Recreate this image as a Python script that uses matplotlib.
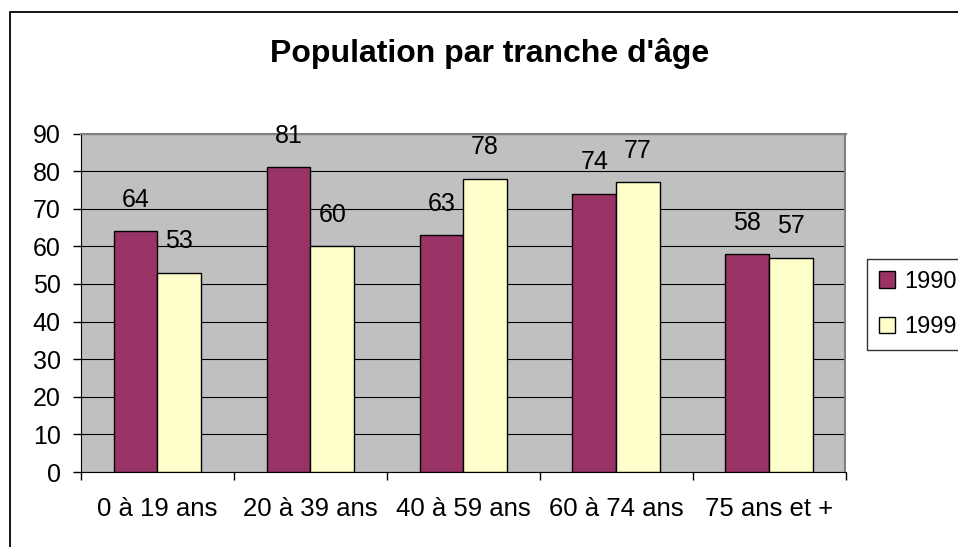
import numpy as np
import matplotlib.pyplot as plt
from matplotlib.patches import Rectangle

plt.rcParams['font.family'] = ['Liberation Sans', 'DejaVu Sans']

categories = ["0 à 19 ans", "20 à 39 ans", "40 à 59 ans", "60 à 74 ans", "75 ans et +"]
years = ["1990", "1999"]
values_1990 = [64, 81, 63, 74, 58]
values_1999 = [53, 60, 78, 77, 57]
y_ticks = [0, 10, 20, 30, 40, 50, 60, 70, 80, 90]

col_1990 = "#993366"
col_1999 = "#FFFFCC"

fig = plt.figure(figsize=(9.58, 5.47), dpi=100)
ax = fig.add_axes([81 / 958, 1 - 472 / 547, (845.5 - 81) / 958, (472 - 133.5) / 547])

# border of the whole chart (right and bottom are cut off in the original)
fig.patches.append(Rectangle((9.5 / 958, -0.1), 1.2, 1 - 12 / 547 + 0.1,
                             transform=fig.transFigure, fill=False,
                             edgecolor="black", linewidth=1.3))

x = np.arange(len(categories))
width = 1 / 3.5

ax.set_facecolor("#C0C0C0")
b1 = ax.bar(x - width / 2, values_1990, width, color=col_1990, edgecolor="black",
            linewidth=1.0, label=years[0], zorder=3)
b2 = ax.bar(x + width / 2, values_1999, width, color=col_1999, edgecolor="black",
            linewidth=1.0, label=years[1], zorder=3)

for bars, vals in ((b1, values_1990), (b2, values_1999)):
    for rect, v in zip(bars, vals):
        ax.annotate(str(v), (rect.get_x() + rect.get_width() / 2, v),
                    xytext=(0, 22.5), textcoords="offset points",
                    ha="center", va="center", fontsize=18, zorder=4)

ax.set_xlim(-0.5, len(categories) - 0.5)
ax.set_ylim(0, 90)
ax.set_yticks(y_ticks)
ax.set_yticklabels([str(t) for t in y_ticks])
ax.yaxis.grid(True, color="black", linewidth=0.8, zorder=1)
ax.set_axisbelow(True)

ax.set_xticks(x)
ax.set_xticklabels(categories)
ax.set_xticks(np.arange(len(categories) + 1) - 0.5, minor=True)
ax.tick_params(axis="x", which="major", length=0, pad=18, labelsize=18.5)
ax.tick_params(axis="x", which="minor", length=6, width=1, direction="out")
ax.tick_params(axis="y", length=6, width=1, direction="out", pad=8.5, labelsize=18)

ax.spines["top"].set_color("#808080")
ax.spines["right"].set_color("#808080")
ax.spines["top"].set_linewidth(1.5)
ax.spines["right"].set_linewidth(1.5)
ax.spines["left"].set_color("black")
ax.spines["bottom"].set_color("black")

fig.text(490 / 958, 1 - 62.3 / 547, "Population par tranche d'âge", ha="center",
         va="baseline", fontsize=23, fontweight="bold")

leg = fig.legend(handles=[b1, b2], labels=years, loc="upper left",
                 bbox_to_anchor=(867 / 958, 1 - 259 / 547), fontsize=17,
                 frameon=True, fancybox=False, shadow=False, handlelength=0.68,
                 handleheight=0.68, handletextpad=0.4, labelspacing=1.0,
                 borderpad=0.5, borderaxespad=0)
leg.get_frame().set_edgecolor("black")
leg.get_frame().set_linewidth(1.0)

fig.savefig("out.png", dpi=100)
